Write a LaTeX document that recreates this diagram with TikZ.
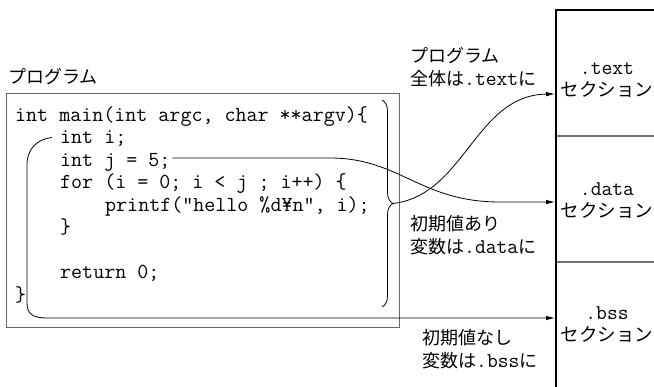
\documentclass[tikz,border=0pt]{standalone}
\usepackage{fontspec}
\setmainfont{Noto Sans CJK JP}
\usetikzlibrary{arrows.meta,calc,decorations.pathreplacing}

\begin{document}
\begin{tikzpicture}[x=1pt,y=-1pt,
  code/.style={font=\ttfamily\fontsize{21.4}{22.5}\selectfont, inner sep=0pt, anchor=base west},
  lbl/.style={font=\fontsize{18}{23}\selectfont, inner sep=0pt, align=left, anchor=west},
  seclbl/.style={font=\fontsize{18.5}{22}\selectfont, inner sep=0pt, align=center},
  mono/.style={},
  conn/.style={line width=0.8pt},
  arr/.style={conn, -{Latex[length=9pt,width=4.5pt]}},
  progframe/.style={draw=black!60, line width=1pt},
]
\newcommand\asc[1]{{\ttfamily\fontsize{21}{22}\selectfont #1}}
% page area
\fill[white] (0,0) rectangle (654,386);
\useasboundingbox (0,0) rectangle (654,386);
\clip (0,0) rectangle (654,386);

% program listing
\node[lbl] (lprog) at (8,77) {プログラム};
\node[progframe, minimum width=393pt, minimum height=234pt, anchor=north west, inner sep=0pt] (prog) at (6,93) {};

\node[code] (l1) at (15,121)   {int main(int argc, char **argv)\{};
\node[code] (l2) at (60,143.5) {int i;};
\node[code] (l3) at (60,166)   {int j = 5;};
\node[code] (l4) at (60,188.5) {for (i = 0; i < j ; i++) \{};
\node[code] (l5) at (105,211)  {printf("hello \%d¥n", i);};
\node[code] (l6) at (60,233.5) {\}};
\node[code] (l7) at (60,278.5) {return 0;};
\node[code] (l8) at (15,301)   {\}};

% section column
\draw[black!55, line width=1.2pt] (556,136) -- (662,136);
\draw[black!55, line width=1.2pt] (556,262) -- (662,262);
\draw[line width=1.6pt] (662,10) -- (556,10) -- (556,392);

\node[seclbl] (stext) at (607,80)    {\asc{.text}\\セクション};
\node[seclbl] (sdata) at (607,200.5) {\asc{.data}\\セクション};
\node[seclbl] (sbss)  at (607,324.5) {\asc{.bss}\\セクション};

\coordinate (intext) at (555,94);
\coordinate (indata) at (555,202);
\coordinate (inbss)  at (555,318);

% captions
\node[lbl] (ltext) at (410,67.5) {プログラム\\全体は\asc{.text}に};
\node[lbl] (ldata) at (410,235.5) {初期値あり\\変数は\asc{.data}に};
\node[lbl] (lbss)  at (422,349)  {初期値なし\\変数は\asc{.bss}に};

% whole program -> .text
\draw[conn, decorate, decoration={brace, amplitude=11pt}] (382,100) -- (382,307);
\coordinate (btip) at (393,203.5);
\draw[arr] (btip) .. controls (465,195) and (475,95) .. (intext);

% initialised variable -> .data
\draw[arr] ($(l3.base east)+(2,-8)$) -- (330,158)
  .. controls (400,158) and (420,202) .. (500,202) -- (indata);

% uninitialised variables -> .bss
\draw[arr] ($(l2.base west)+(-8,-6)$) .. controls (38,139) and (27,148) .. (27,165)
  -- (27,303) .. controls (27,314) and (33,318) .. (47,318) -- (inbss);
\end{tikzpicture}
\end{document}
